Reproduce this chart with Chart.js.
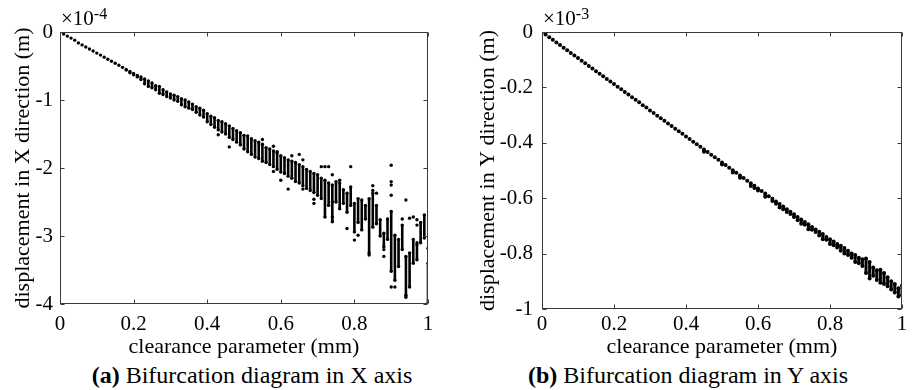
<!DOCTYPE html>
<html><head><meta charset="utf-8">
<script src="https://cdn.jsdelivr.net/npm/chart.js@4.4.0/dist/chart.umd.min.js"></script>
<style>
html,body{margin:0;padding:0;background:#fff;width:913px;height:390px;overflow:hidden;font-family:"Liberation Serif","Times New Roman",serif;color:#000;}
.box{position:absolute;top:0;height:360px;}
.cap{position:absolute;top:361px;font-size:24px;line-height:28px;white-space:nowrap;transform:translateX(-50%);}
.exp{position:absolute;top:7px;font-size:21px;line-height:22px;white-space:nowrap;}
.exp sup{font-size:16px;position:relative;top:-4px;vertical-align:top;}
</style></head><body>
<div class="box" style="left:0;width:456px;"><canvas id="cx"></canvas></div>
<div class="box" style="left:456px;width:457px;"><canvas id="cy"></canvas></div>
<div class="exp" style="left:61px;">&times;10<sup>-4</sup></div>
<div class="exp" style="left:543px;">&times;10<sup>-3</sup></div>
<div class="cap" style="left:252px;"><b>(a)</b> Bifurcation diagram in X axis</div>
<div class="cap" style="left:688px;"><b>(b)</b> Bifurcation diagram in Y axis</div>
<script>
// clearance parameter (mm)
const clearance = [0,0.01,0.02,0.03,0.04,0.05,0.06,0.07,0.08,0.09,
0.10,0.11,0.12,0.13,0.14,0.15,0.16,0.17,0.18,0.19,
0.20,0.21,0.22,0.23,0.24,0.25,0.26,0.27,0.28,0.29,
0.30,0.31,0.32,0.33,0.34,0.35,0.36,0.37,0.38,0.39,
0.40,0.41,0.42,0.43,0.44,0.45,0.46,0.47,0.48,0.49,
0.50,0.51,0.52,0.53,0.54,0.55,0.56,0.57,0.58,0.59,
0.60,0.61,0.62,0.63,0.64,0.65,0.66,0.67,0.68,0.69,
0.70,0.71,0.72,0.73,0.74,0.75,0.76,0.77,0.78,0.79,
0.80,0.81,0.82,0.83,0.84,0.85,0.86,0.87,0.88,0.89,
0.90,0.91,0.92,0.93,0.94,0.95,0.96,0.97,0.98,0.99,1.00];

// X-direction displacement (x1e-4 m): upper and lower end of each column
const xDispTop = [0,-0.03,-0.06,-0.09,-0.12,-0.16,-0.19,-0.22,-0.25,-0.28,
-0.31,-0.34,-0.37,-0.40,-0.43,-0.46,-0.49,-0.52,-0.55,-0.58,
-0.61,-0.64,-0.66,-0.69,-0.72,-0.75,-0.79,-0.80,-0.85,-0.88,
-0.91,-0.93,-0.95,-0.98,-1.00,-1.03,-1.06,-1.10,-1.12,-1.15,
-1.20,-1.24,-1.26,-1.30,-1.32,-1.35,-1.38,-1.42,-1.45,-1.48,
-1.52,-1.53,-1.57,-1.60,-1.62,-1.65,-1.70,-1.72,-1.75,-1.78,
-1.82,-1.85,-1.88,-1.90,-1.92,-1.95,-1.98,-2.02,-2.05,-2.08,
-2.10,-2.15,-2.18,-2.22,-2.25,-2.20,-2.22,-2.32,-2.37,-2.28,
-2.52,-2.45,-2.47,-2.55,-2.45,-2.37,-2.55,-2.76,-2.96,-2.75,
-2.64,-2.99,-3.05,-2.84,-3.30,-3.25,-3.05,-3.13,-2.80,-2.69,-3.40];
const xDispBottom = [0,-0.03,-0.06,-0.09,-0.12,-0.16,-0.19,-0.22,-0.25,-0.28,
-0.31,-0.34,-0.37,-0.40,-0.43,-0.46,-0.49,-0.52,-0.56,-0.60,
-0.63,-0.66,-0.70,-0.76,-0.80,-0.82,-0.85,-0.90,-0.92,-0.95,
-0.97,-1.00,-1.02,-1.07,-1.10,-1.12,-1.14,-1.18,-1.22,-1.25,
-1.32,-1.36,-1.40,-1.44,-1.47,-1.50,-1.55,-1.58,-1.62,-1.66,
-1.72,-1.76,-1.80,-1.84,-1.86,-1.90,-1.92,-1.95,-1.98,-2.02,
-2.06,-2.08,-2.12,-2.15,-2.20,-2.22,-2.26,-2.30,-2.33,-2.36,
-2.40,-2.45,-2.72,-2.55,-2.79,-2.50,-2.60,-2.52,-2.65,-2.55,
-2.94,-2.80,-2.91,-2.75,-3.25,-2.87,-2.82,-3.00,-3.16,-3.05,
-3.52,-3.65,-3.45,-3.20,-3.90,-3.75,-3.40,-3.35,-3.10,-3.03,-3.99];
// isolated points (X direction)
const xOutlierC = [0.43,0.46,0.55,0.58,0.59,0.58,0.60,0.62,0.63,0.65,0.66,0.66,0.71,0.72,0.73,0.69,0.69,0.74,0.79,0.78,0.80,0.81,0.85,0.85,0.86,0.88,0.88,0.90,0.90,0.90,0.90,0.90,0.91,0.94,0.95,0.96,0.97,0.97,0.97,0.93,1.00,0.94,0.84,0.76,0.74,0.74];
const xOutlierD = [-1.51,-1.69,-1.58,-1.68,-1.76,-2.05,-2.18,-2.31,-1.82,-1.80,-1.88,-2.31,-1.98,-1.98,-1.98,-2.46,-2.52,-2.10,-1.98,-2.89,-3.06,-2.99,-2.26,-2.33,-2.37,-3.20,-3.30,-1.96,-2.20,-2.25,-2.40,-3.75,-3.75,-2.47,-2.74,-2.72,-2.76,-2.84,-3.10,-2.75,-3.18,-3.87,-3.28,-2.18,-2.50,-2.72];

// Y-direction displacement (x1e-3 m)
const yDispTop = [0,-0.009,-0.019,-0.028,-0.038,-0.047,-0.057,-0.066,-0.076,-0.085,
-0.094,-0.104,-0.113,-0.123,-0.132,-0.142,-0.151,-0.160,-0.170,-0.179,
-0.188,-0.198,-0.207,-0.217,-0.226,-0.236,-0.245,-0.254,-0.264,-0.273,
-0.283,-0.292,-0.302,-0.311,-0.320,-0.330,-0.339,-0.349,-0.358,-0.367,
-0.377,-0.386,-0.396,-0.405,-0.414,-0.424,-0.433,-0.443,-0.452,-0.461,
-0.471,-0.480,-0.490,-0.499,-0.508,-0.518,-0.527,-0.537,-0.546,-0.555,
-0.565,-0.574,-0.583,-0.593,-0.602,-0.612,-0.621,-0.630,-0.640,-0.649,
-0.658,-0.668,-0.677,-0.686,-0.694,-0.704,-0.713,-0.721,-0.729,-0.740,
-0.748,-0.756,-0.765,-0.772,-0.780,-0.790,-0.800,-0.805,-0.815,-0.820,
-0.818,-0.830,-0.850,-0.860,-0.858,-0.870,-0.885,-0.900,-0.910,-0.925,-0.915];
const yDispBottom = [0,-0.009,-0.019,-0.028,-0.038,-0.047,-0.057,-0.066,-0.076,-0.085,
-0.094,-0.104,-0.113,-0.123,-0.132,-0.142,-0.151,-0.160,-0.170,-0.179,
-0.188,-0.198,-0.207,-0.217,-0.226,-0.236,-0.245,-0.254,-0.264,-0.273,
-0.283,-0.292,-0.302,-0.311,-0.320,-0.330,-0.339,-0.349,-0.358,-0.367,
-0.377,-0.386,-0.396,-0.405,-0.414,-0.432,-0.433,-0.443,-0.452,-0.461,
-0.478,-0.480,-0.490,-0.507,-0.508,-0.526,-0.527,-0.537,-0.556,-0.563,
-0.572,-0.574,-0.595,-0.593,-0.610,-0.620,-0.634,-0.640,-0.650,-0.657,
-0.668,-0.680,-0.692,-0.696,-0.712,-0.714,-0.722,-0.735,-0.748,-0.750,
-0.765,-0.770,-0.778,-0.790,-0.800,-0.805,-0.815,-0.830,-0.835,-0.845,
-0.870,-0.890,-0.880,-0.895,-0.905,-0.910,-0.918,-0.930,-0.940,-0.955,-0.950];

const xTicks = [0,0.2,0.4,0.6,0.8,1];
const xDirTicks = [0,-1,-2,-3,-4];
const yDirTicks = [0,-0.2,-0.4,-0.6,-0.8,-1];
const FONT = "'Liberation Serif', 'Times New Roman', serif";
Chart.defaults.font.family = FONT;

function columnSegments(c, top, bot){
  const out = [];
  c.forEach((v,i)=>{ if (top[i] !== bot[i]) { out.push({x:v,y:top[i]},{x:v,y:bot[i]},{x:v,y:null}); } });
  return out;
}
function columnPoints(c, top, bot, oc, od){
  const out = [];
  c.forEach((v,i)=>{ out.push({x:v,y:top[i]}); if (top[i] !== bot[i]) out.push({x:v,y:bot[i]}); });
  if (oc) oc.forEach((v,i)=>out.push({x:v,y:od[i]}));
  return out;
}

const framePlugin = {
  id:'frame',
  afterDatasetsDraw(chart){
    const {ctx, chartArea:a, scales} = chart;
    const x = scales.x, y = scales.y;
    ctx.save();
    ctx.strokeStyle = '#3a3a3a';
    ctx.lineWidth = 1;
    const L = Math.round(a.left)+0.5, R = Math.round(a.right)-0.5, T = Math.round(a.top)+0.5, B = Math.round(a.bottom)-0.5;
    ctx.strokeRect(L, T, R-L, B-T);
    ctx.beginPath();
    x.ticks.forEach(t=>{ const p = Math.round(x.getPixelForValue(t.value))+0.5; ctx.moveTo(p,B); ctx.lineTo(p,B-4); ctx.moveTo(p,T); ctx.lineTo(p,T+4); });
    y.ticks.forEach(t=>{ const p = Math.round(y.getPixelForValue(t.value))+0.5; ctx.moveTo(L,p); ctx.lineTo(L+4,p); ctx.moveTo(R,p); ctx.lineTo(R-4,p); });
    ctx.stroke();
    ctx.restore();
  }
};

const fmt = v => String(Math.round(v*10)/10);

function makeChart(id, cfg){
  const segs = columnSegments(clearance, cfg.top, cfg.bot);
  const pts = columnPoints(clearance, cfg.top, cfg.bot, cfg.oc, cfg.od);
  return new Chart(document.getElementById(id), {
    type:'scatter',
    data:{datasets:[
      {data:segs, showLine:true, spanGaps:false, borderColor:'#000', borderWidth:cfg.barW, pointRadius:0, borderCapStyle:'butt'},
      {data:pts, showLine:false, pointRadius:cfg.r, pointBorderWidth:0, backgroundColor:'#000', borderColor:'#000', pointStyle:'circle'}
    ]},
    options:{
      responsive:true, maintainAspectRatio:false, animation:false, events:[],
      layout:{padding:{top:32, right:cfg.padR, left:0, bottom:0}},
      plugins:{legend:{display:false}, tooltip:{enabled:false}},
      scales:{
        x:{type:'linear', min:0, max:1, offset:false,
          afterBuildTicks(s){ s.ticks = xTicks.map(v=>({value:v})); },
          afterFit(s){ s.height = cfg.xH; },
          grid:{display:false, drawTicks:false}, border:{display:false},
          ticks:{color:'#000', font:{family:FONT, size:21}, padding:cfg.xPad, maxRotation:0, callback:fmt},
          title:{display:true, text:'clearance parameter (mm)', color:'#000', font:{family:FONT, size:22}, padding:{top:0,bottom:0}}
        },
        y:{type:'linear', min:cfg.ymin, max:0,
          afterBuildTicks(s){ s.ticks = cfg.yTicks.map(v=>({value:v})); },
          afterFit(s){ s.width = cfg.yW; },
          grid:{display:false, drawTicks:false}, border:{display:false},
          ticks:{color:'#000', font:{family:FONT, size:21}, padding:cfg.yPad, callback:fmt},
          title:{display:true, text:cfg.yTitle, color:'#000', font:{family:FONT, size:22}, padding:{top:cfg.tPad,bottom:0}}
        }
      }
    },
    plugins:[framePlugin]
  });
}

makeChart('cx', {top:xDispTop, bot:xDispBottom, oc:xOutlierC, od:xOutlierD, ymin:-4, yTicks:xDirTicks,
  yTitle:'displacement in X direction (m)', padR:28, xH:56, yW:60, xPad:8, yPad:7, tPad:10, r:1.7, barW:2.6});
makeChart('cy', {top:yDispTop, bot:yDispBottom, ymin:-1, yTicks:yDirTicks,
  yTitle:'displacement in Y direction (m)', padR:11, xH:51, yW:86, xPad:3, yPad:9, tPad:19, r:2, barW:3});
</script>
</body></html>
